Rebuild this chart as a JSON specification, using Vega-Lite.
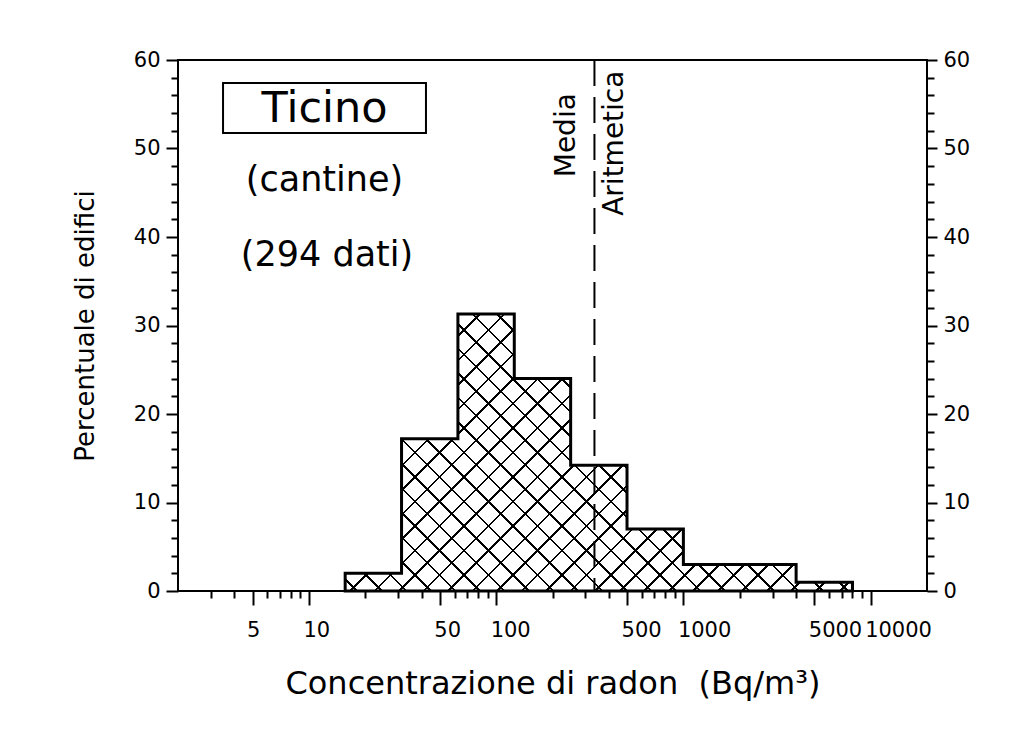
{
  "$schema": "https://vega.github.io/schema/vega-lite/v6.json",
  "width": 749,
  "height": 531,
  "autosize": {"type": "none"},
  "padding": {"left": 178, "top": 60, "right": 92, "bottom": 140},
  "background": "white",
  "config": {
    "view": {"stroke": "black", "strokeWidth": 2},
    "font": "DejaVu Sans",
    "axis": {
      "grid": false, "domain": false, "tickColor": "black", "tickWidth": 2,
      "labelColor": "black", "labelFont": "DejaVu Sans", "labelFontSize": 21,
      "labelFlush": false, "labelOverlap": false, "labelBound": false,
      "titleFont": "DejaVu Sans", "titleColor": "black", "titleFontWeight": "normal"
    },
    "text": {"font": "DejaVu Sans", "color": "black"}
  },
  "datasets": {
    "bins": [
      {"i": 1, "x0": 15.625, "x1": 31.25, "pct": 2},
      {"i": 2, "x0": 31.25, "x1": 62.5, "pct": 17.2},
      {"i": 3, "x0": 62.5, "x1": 125, "pct": 31.3},
      {"i": 4, "x0": 125, "x1": 250, "pct": 24},
      {"i": 5, "x0": 250, "x1": 500, "pct": 14.2},
      {"i": 6, "x0": 500, "x1": 1000, "pct": 7},
      {"i": 7, "x0": 1000, "x1": 2000, "pct": 3},
      {"i": 8, "x0": 2000, "x1": 4000, "pct": 3},
      {"i": 9, "x0": 4000, "x1": 8000, "pct": 1}
    ],
    "stats": [{"mean": 335}]
  },
  "resolve": {"axis": {"x": "independent", "y": "independent"}},
  "layer": [
    {
      "data": {"name": "bins"},
      "transform": [{"fold": ["x0", "x1"], "as": ["edge", "x"]}],
      "mark": {
        "type": "area", "interpolate": "linear",
        "fill": {"gradient": "linear", "x1": 0, "y1": 0, "x2": 1.1909, "y2": 0.6503, "stops": [
          {"offset": 0, "color": "transparent"},
          {"offset": 0.0138, "color": "transparent"}, {"offset": 0.0138, "color": "black"}, {"offset": 0.0174, "color": "black"}, {"offset": 0.0174, "color": "transparent"},
          {"offset": 0.0451, "color": "transparent"}, {"offset": 0.0451, "color": "black"}, {"offset": 0.0487, "color": "black"}, {"offset": 0.0487, "color": "transparent"},
          {"offset": 0.0763, "color": "transparent"}, {"offset": 0.0763, "color": "black"}, {"offset": 0.0799, "color": "black"}, {"offset": 0.0799, "color": "transparent"},
          {"offset": 0.1076, "color": "transparent"}, {"offset": 0.1076, "color": "black"}, {"offset": 0.1112, "color": "black"}, {"offset": 0.1112, "color": "transparent"},
          {"offset": 0.1388, "color": "transparent"}, {"offset": 0.1388, "color": "black"}, {"offset": 0.1424, "color": "black"}, {"offset": 0.1424, "color": "transparent"},
          {"offset": 0.1701, "color": "transparent"}, {"offset": 0.1701, "color": "black"}, {"offset": 0.1737, "color": "black"}, {"offset": 0.1737, "color": "transparent"},
          {"offset": 0.2013, "color": "transparent"}, {"offset": 0.2013, "color": "black"}, {"offset": 0.2049, "color": "black"}, {"offset": 0.2049, "color": "transparent"},
          {"offset": 0.2326, "color": "transparent"}, {"offset": 0.2326, "color": "black"}, {"offset": 0.2362, "color": "black"}, {"offset": 0.2362, "color": "transparent"},
          {"offset": 0.2638, "color": "transparent"}, {"offset": 0.2638, "color": "black"}, {"offset": 0.2674, "color": "black"}, {"offset": 0.2674, "color": "transparent"},
          {"offset": 0.2951, "color": "transparent"}, {"offset": 0.2951, "color": "black"}, {"offset": 0.2987, "color": "black"}, {"offset": 0.2987, "color": "transparent"},
          {"offset": 0.3263, "color": "transparent"}, {"offset": 0.3263, "color": "black"}, {"offset": 0.3299, "color": "black"}, {"offset": 0.3299, "color": "transparent"},
          {"offset": 0.3576, "color": "transparent"}, {"offset": 0.3576, "color": "black"}, {"offset": 0.3612, "color": "black"}, {"offset": 0.3612, "color": "transparent"},
          {"offset": 0.3888, "color": "transparent"}, {"offset": 0.3888, "color": "black"}, {"offset": 0.3924, "color": "black"}, {"offset": 0.3924, "color": "transparent"},
          {"offset": 0.4201, "color": "transparent"}, {"offset": 0.4201, "color": "black"}, {"offset": 0.4237, "color": "black"}, {"offset": 0.4237, "color": "transparent"},
          {"offset": 0.4513, "color": "transparent"}, {"offset": 0.4513, "color": "black"}, {"offset": 0.4549, "color": "black"}, {"offset": 0.4549, "color": "transparent"},
          {"offset": 0.4826, "color": "transparent"}, {"offset": 0.4826, "color": "black"}, {"offset": 0.4862, "color": "black"}, {"offset": 0.4862, "color": "transparent"},
          {"offset": 0.5138, "color": "transparent"}, {"offset": 0.5138, "color": "black"}, {"offset": 0.5174, "color": "black"}, {"offset": 0.5174, "color": "transparent"},
          {"offset": 0.5451, "color": "transparent"}, {"offset": 0.5451, "color": "black"}, {"offset": 0.5487, "color": "black"}, {"offset": 0.5487, "color": "transparent"},
          {"offset": 0.5763, "color": "transparent"}, {"offset": 0.5763, "color": "black"}, {"offset": 0.5799, "color": "black"}, {"offset": 0.5799, "color": "transparent"},
          {"offset": 0.6076, "color": "transparent"}, {"offset": 0.6076, "color": "black"}, {"offset": 0.6112, "color": "black"}, {"offset": 0.6112, "color": "transparent"},
          {"offset": 0.6388, "color": "transparent"}, {"offset": 0.6388, "color": "black"}, {"offset": 0.6424, "color": "black"}, {"offset": 0.6424, "color": "transparent"},
          {"offset": 0.6701, "color": "transparent"}, {"offset": 0.6701, "color": "black"}, {"offset": 0.6737, "color": "black"}, {"offset": 0.6737, "color": "transparent"},
          {"offset": 0.7013, "color": "transparent"}, {"offset": 0.7013, "color": "black"}, {"offset": 0.7049, "color": "black"}, {"offset": 0.7049, "color": "transparent"},
          {"offset": 0.7326, "color": "transparent"}, {"offset": 0.7326, "color": "black"}, {"offset": 0.7362, "color": "black"}, {"offset": 0.7362, "color": "transparent"},
          {"offset": 0.7638, "color": "transparent"}, {"offset": 0.7638, "color": "black"}, {"offset": 0.7674, "color": "black"}, {"offset": 0.7674, "color": "transparent"},
          {"offset": 0.7951, "color": "transparent"}, {"offset": 0.7951, "color": "black"}, {"offset": 0.7987, "color": "black"}, {"offset": 0.7987, "color": "transparent"},
          {"offset": 0.8263, "color": "transparent"}, {"offset": 0.8263, "color": "black"}, {"offset": 0.8299, "color": "black"}, {"offset": 0.8299, "color": "transparent"},
          {"offset": 0.8576, "color": "transparent"}, {"offset": 0.8576, "color": "black"}, {"offset": 0.8612, "color": "black"}, {"offset": 0.8612, "color": "transparent"},
          {"offset": 0.8888, "color": "transparent"}, {"offset": 0.8888, "color": "black"}, {"offset": 0.8924, "color": "black"}, {"offset": 0.8924, "color": "transparent"},
          {"offset": 0.9201, "color": "transparent"}, {"offset": 0.9201, "color": "black"}, {"offset": 0.9237, "color": "black"}, {"offset": 0.9237, "color": "transparent"},
          {"offset": 0.9513, "color": "transparent"}, {"offset": 0.9513, "color": "black"}, {"offset": 0.9549, "color": "black"}, {"offset": 0.9549, "color": "transparent"},
          {"offset": 0.9826, "color": "transparent"}, {"offset": 0.9826, "color": "black"}, {"offset": 0.9862, "color": "black"}, {"offset": 0.9862, "color": "transparent"},
          {"offset": 1, "color": "transparent"}
        ]}
      },
      "encoding": {
        "x": {"field": "x", "type": "quantitative", "scale": {"type": "log", "domain": [2, 20000], "nice": false, "zero": false},
          "axis": {"orient": "bottom", "values": [5, 10, 50, 100, 500, 1000, 5000, 10000], "format": "d", "tickSize": 14, "labelPadding": 14,
            "labelAlign": "left", "labelOffset": -6,
            "title": "Concentrazione di radon\u00a0 (Bq/m³)", "titleFontSize": 32, "titlePadding": 28}},
        "y": {"field": "pct", "type": "quantitative", "stack": null, "scale": {"domain": [0, 60], "nice": false, "zero": true},
          "axis": {"orient": "left", "values": [0, 10, 20, 30, 40, 50, 60], "tickSize": 12, "labelPadding": 6,
            "title": "Percentuale di edifici", "titleFontSize": 26, "titlePadding": 35}},
        "order": [{"field": "i", "type": "quantitative"}, {"field": "edge", "type": "ordinal"}]
      }
    },
    {
      "data": {"name": "bins"},
      "transform": [{"fold": ["x0", "x1"], "as": ["edge", "x"]}],
      "mark": {
        "type": "area", "interpolate": "linear", "stroke": "black", "strokeWidth": 3, "strokeJoin": "miter",
        "fill": {"gradient": "linear", "x1": 0, "y1": 1, "x2": 1.1909, "y2": 0.3497, "stops": [
          {"offset": 0, "color": "transparent"},
          {"offset": 0.0138, "color": "transparent"}, {"offset": 0.0138, "color": "black"}, {"offset": 0.0174, "color": "black"}, {"offset": 0.0174, "color": "transparent"},
          {"offset": 0.0451, "color": "transparent"}, {"offset": 0.0451, "color": "black"}, {"offset": 0.0487, "color": "black"}, {"offset": 0.0487, "color": "transparent"},
          {"offset": 0.0763, "color": "transparent"}, {"offset": 0.0763, "color": "black"}, {"offset": 0.0799, "color": "black"}, {"offset": 0.0799, "color": "transparent"},
          {"offset": 0.1076, "color": "transparent"}, {"offset": 0.1076, "color": "black"}, {"offset": 0.1112, "color": "black"}, {"offset": 0.1112, "color": "transparent"},
          {"offset": 0.1388, "color": "transparent"}, {"offset": 0.1388, "color": "black"}, {"offset": 0.1424, "color": "black"}, {"offset": 0.1424, "color": "transparent"},
          {"offset": 0.1701, "color": "transparent"}, {"offset": 0.1701, "color": "black"}, {"offset": 0.1737, "color": "black"}, {"offset": 0.1737, "color": "transparent"},
          {"offset": 0.2013, "color": "transparent"}, {"offset": 0.2013, "color": "black"}, {"offset": 0.2049, "color": "black"}, {"offset": 0.2049, "color": "transparent"},
          {"offset": 0.2326, "color": "transparent"}, {"offset": 0.2326, "color": "black"}, {"offset": 0.2362, "color": "black"}, {"offset": 0.2362, "color": "transparent"},
          {"offset": 0.2638, "color": "transparent"}, {"offset": 0.2638, "color": "black"}, {"offset": 0.2674, "color": "black"}, {"offset": 0.2674, "color": "transparent"},
          {"offset": 0.2951, "color": "transparent"}, {"offset": 0.2951, "color": "black"}, {"offset": 0.2987, "color": "black"}, {"offset": 0.2987, "color": "transparent"},
          {"offset": 0.3263, "color": "transparent"}, {"offset": 0.3263, "color": "black"}, {"offset": 0.3299, "color": "black"}, {"offset": 0.3299, "color": "transparent"},
          {"offset": 0.3576, "color": "transparent"}, {"offset": 0.3576, "color": "black"}, {"offset": 0.3612, "color": "black"}, {"offset": 0.3612, "color": "transparent"},
          {"offset": 0.3888, "color": "transparent"}, {"offset": 0.3888, "color": "black"}, {"offset": 0.3924, "color": "black"}, {"offset": 0.3924, "color": "transparent"},
          {"offset": 0.4201, "color": "transparent"}, {"offset": 0.4201, "color": "black"}, {"offset": 0.4237, "color": "black"}, {"offset": 0.4237, "color": "transparent"},
          {"offset": 0.4513, "color": "transparent"}, {"offset": 0.4513, "color": "black"}, {"offset": 0.4549, "color": "black"}, {"offset": 0.4549, "color": "transparent"},
          {"offset": 0.4826, "color": "transparent"}, {"offset": 0.4826, "color": "black"}, {"offset": 0.4862, "color": "black"}, {"offset": 0.4862, "color": "transparent"},
          {"offset": 0.5138, "color": "transparent"}, {"offset": 0.5138, "color": "black"}, {"offset": 0.5174, "color": "black"}, {"offset": 0.5174, "color": "transparent"},
          {"offset": 0.5451, "color": "transparent"}, {"offset": 0.5451, "color": "black"}, {"offset": 0.5487, "color": "black"}, {"offset": 0.5487, "color": "transparent"},
          {"offset": 0.5763, "color": "transparent"}, {"offset": 0.5763, "color": "black"}, {"offset": 0.5799, "color": "black"}, {"offset": 0.5799, "color": "transparent"},
          {"offset": 0.6076, "color": "transparent"}, {"offset": 0.6076, "color": "black"}, {"offset": 0.6112, "color": "black"}, {"offset": 0.6112, "color": "transparent"},
          {"offset": 0.6388, "color": "transparent"}, {"offset": 0.6388, "color": "black"}, {"offset": 0.6424, "color": "black"}, {"offset": 0.6424, "color": "transparent"},
          {"offset": 0.6701, "color": "transparent"}, {"offset": 0.6701, "color": "black"}, {"offset": 0.6737, "color": "black"}, {"offset": 0.6737, "color": "transparent"},
          {"offset": 0.7013, "color": "transparent"}, {"offset": 0.7013, "color": "black"}, {"offset": 0.7049, "color": "black"}, {"offset": 0.7049, "color": "transparent"},
          {"offset": 0.7326, "color": "transparent"}, {"offset": 0.7326, "color": "black"}, {"offset": 0.7362, "color": "black"}, {"offset": 0.7362, "color": "transparent"},
          {"offset": 0.7638, "color": "transparent"}, {"offset": 0.7638, "color": "black"}, {"offset": 0.7674, "color": "black"}, {"offset": 0.7674, "color": "transparent"},
          {"offset": 0.7951, "color": "transparent"}, {"offset": 0.7951, "color": "black"}, {"offset": 0.7987, "color": "black"}, {"offset": 0.7987, "color": "transparent"},
          {"offset": 0.8263, "color": "transparent"}, {"offset": 0.8263, "color": "black"}, {"offset": 0.8299, "color": "black"}, {"offset": 0.8299, "color": "transparent"},
          {"offset": 0.8576, "color": "transparent"}, {"offset": 0.8576, "color": "black"}, {"offset": 0.8612, "color": "black"}, {"offset": 0.8612, "color": "transparent"},
          {"offset": 0.8888, "color": "transparent"}, {"offset": 0.8888, "color": "black"}, {"offset": 0.8924, "color": "black"}, {"offset": 0.8924, "color": "transparent"},
          {"offset": 0.9201, "color": "transparent"}, {"offset": 0.9201, "color": "black"}, {"offset": 0.9237, "color": "black"}, {"offset": 0.9237, "color": "transparent"},
          {"offset": 0.9513, "color": "transparent"}, {"offset": 0.9513, "color": "black"}, {"offset": 0.9549, "color": "black"}, {"offset": 0.9549, "color": "transparent"},
          {"offset": 0.9826, "color": "transparent"}, {"offset": 0.9826, "color": "black"}, {"offset": 0.9862, "color": "black"}, {"offset": 0.9862, "color": "transparent"},
          {"offset": 1, "color": "transparent"}
        ]}
      },
      "encoding": {
        "x": {"field": "x", "type": "quantitative", "scale": {"type": "log", "domain": [2, 20000], "nice": false, "zero": false},
          "axis": {"orient": "bottom", "values": [3, 4, 6, 7, 8, 9, 20, 30, 40, 60, 70, 80, 90, 200, 300, 400, 600, 700, 800, 900, 2000, 3000, 4000, 6000, 7000, 8000, 9000], "tickSize": 7, "labels": false, "title": null}},
        "y": {"field": "pct", "type": "quantitative", "stack": null, "scale": {"domain": [0, 60], "nice": false, "zero": true},
          "axis": {"orient": "left", "values": [2, 4, 6, 8, 12, 14, 16, 18, 22, 24, 26, 28, 32, 34, 36, 38, 42, 44, 46, 48, 52, 54, 56, 58], "tickSize": 7, "labels": false, "title": null}},
        "order": [{"field": "i", "type": "quantitative"}, {"field": "edge", "type": "ordinal"}]
      }
    },
    {
      "data": {"name": "stats"},
      "mark": {"type": "rule", "stroke": "black", "strokeWidth": 2, "strokeDash": [26, 11]},
      "encoding": {
        "x": {"field": "mean", "type": "quantitative", "scale": {"type": "log", "domain": [2, 20000], "nice": false, "zero": false}, "axis": null}
      }
    },
    {
      "data": {"name": "stats"},
      "mark": {"type": "rect", "fill": null, "stroke": "black", "strokeWidth": 2},
      "encoding": {
        "x": {"datum": 3.48, "type": "quantitative", "scale": {"type": "log", "domain": [2, 20000], "nice": false, "zero": false}, "axis": null},
        "x2": {"datum": 42.2},
        "y": {"datum": 57.4, "type": "quantitative", "scale": {"domain": [0, 60], "nice": false, "zero": true},
          "axis": {"orient": "right", "values": [0, 10, 20, 30, 40, 50, 60], "tickSize": 10, "labelPadding": 6, "title": null}},
        "y2": {"datum": 51.75}
      }
    },
    {
      "data": {"name": "stats"},
      "mark": {"type": "text", "text": "Ticino", "fontSize": 43, "align": "center", "baseline": "middle"},
      "encoding": {
        "x": {"datum": 12.12, "type": "quantitative", "scale": {"type": "log", "domain": [2, 20000], "nice": false, "zero": false}, "axis": null},
        "y": {"datum": 54.5, "type": "quantitative", "scale": {"domain": [0, 60], "nice": false, "zero": true},
          "axis": {"orient": "right", "values": [2, 4, 6, 8, 12, 14, 16, 18, 22, 24, 26, 28, 32, 34, 36, 38, 42, 44, 46, 48, 52, 54, 56, 58], "tickSize": 7, "labels": false, "title": null}}
      }
    },
    {
      "data": {"name": "stats"},
      "mark": {"type": "text", "text": "(cantine)", "fontSize": 35, "align": "center", "baseline": "middle"},
      "encoding": {
        "x": {"datum": 12.12, "type": "quantitative", "scale": {"type": "log", "domain": [2, 20000], "nice": false, "zero": false}, "axis": null},
        "y": {"datum": 46.4, "type": "quantitative", "scale": {"domain": [0, 60], "nice": false, "zero": true}, "axis": null}
      }
    },
    {
      "data": {"name": "stats"},
      "mark": {"type": "text", "text": "(294 dati)", "fontSize": 35, "align": "center", "baseline": "middle"},
      "encoding": {
        "x": {"datum": 12.5, "type": "quantitative", "scale": {"type": "log", "domain": [2, 20000], "nice": false, "zero": false}, "axis": null},
        "y": {"datum": 38.0, "type": "quantitative", "scale": {"domain": [0, 60], "nice": false, "zero": true}, "axis": null}
      }
    },
    {
      "data": {"name": "stats"},
      "mark": {"type": "text", "text": "Media", "fontSize": 28, "align": "center", "baseline": "middle", "angle": 270, "xOffset": -27},
      "encoding": {
        "x": {"field": "mean", "type": "quantitative", "scale": {"type": "log", "domain": [2, 20000], "nice": false, "zero": false}, "axis": null},
        "y": {"datum": 51.5, "type": "quantitative", "scale": {"domain": [0, 60], "nice": false, "zero": true}, "axis": null}
      }
    },
    {
      "data": {"name": "stats"},
      "mark": {"type": "text", "text": "Aritmetica", "fontSize": 28, "align": "center", "baseline": "middle", "angle": 270, "xOffset": 21},
      "encoding": {
        "x": {"field": "mean", "type": "quantitative", "scale": {"type": "log", "domain": [2, 20000], "nice": false, "zero": false}, "axis": null},
        "y": {"datum": 50.6, "type": "quantitative", "scale": {"domain": [0, 60], "nice": false, "zero": true}, "axis": null}
      }
    }
  ]
}
